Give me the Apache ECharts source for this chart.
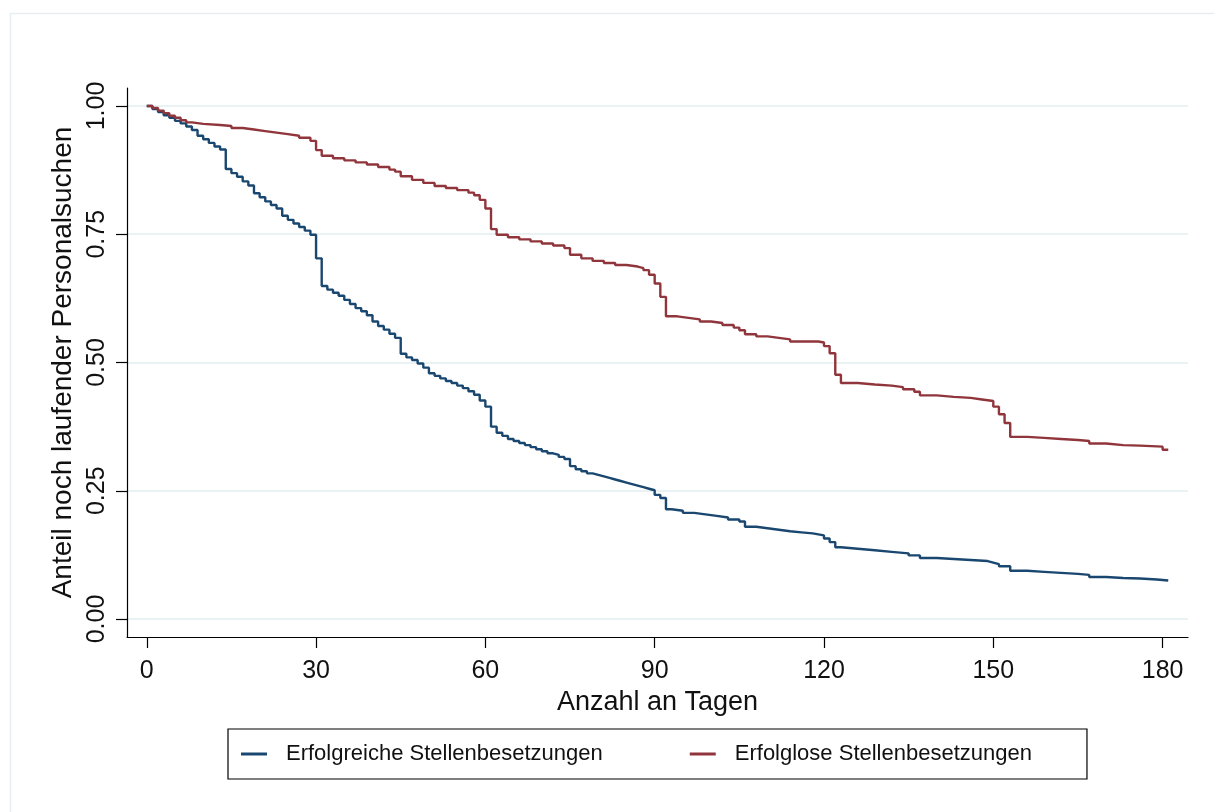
<!DOCTYPE html>
<html>
<head>
<meta charset="utf-8">
<script src="https://cdn.jsdelivr.net/npm/echarts@6/dist/echarts.min.js"></script>
<style>
  html, body { margin: 0; padding: 0; background: #fff; }
  #chart { width: 1214px; height: 812px; }
</style>
</head>
<body>
<div id="chart"></div>
<script>
// Achsen
var xTicks = [0, 30, 60, 90, 120, 150, 180];
var yTicks = [0, 0.25, 0.5, 0.75, 1];

// Erfolgreiche Stellenbesetzungen (Tag, Anteil)
var erfolgDays = [0,1,2,3,4,5,6,7,8,9,10,11,12,13,14,15,16,17,18,19,20,21,22,23,24,25,26,27,28,29,30,31,32,33,34,35,36,37,38,39,40,41,42,43,44,45,46,47,48,49,50,51,52,53,54,55,56,57,58,59,60,61,62,63,64,65,66,67,68,69,70,71,72,73,74,75,76,77,78,79,80,81,82,83,84,85,86,87,88,89,90,91,92,93,95,97,99,101,103,105,106,108,110,112,114,116,118,119,120,121,122,123,126,129,132,135,137,140,143,146,149,150,151,153,156,159,162,165,167,170,173,176,179,181];
var erfolgVals = [1.0,0.994,0.988,0.982,0.977,0.971,0.966,0.960,0.953,0.942,0.935,0.928,0.921,0.915,0.877,0.869,0.862,0.853,0.845,0.830,0.822,0.814,0.807,0.800,0.786,0.778,0.771,0.764,0.757,0.749,0.703,0.649,0.642,0.636,0.630,0.622,0.614,0.606,0.600,0.592,0.580,0.571,0.564,0.556,0.548,0.517,0.510,0.505,0.498,0.490,0.479,0.474,0.469,0.464,0.460,0.455,0.450,0.444,0.437,0.426,0.414,0.375,0.363,0.357,0.351,0.347,0.343,0.339,0.335,0.331,0.327,0.323,0.320,0.316,0.312,0.298,0.292,0.288,0.284,0.281,0.278,0.275,0.272,0.269,0.266,0.263,0.260,0.257,0.254,0.251,0.242,0.236,0.214,0.211,0.207,0.204,0.201,0.198,0.194,0.190,0.180,0.177,0.174,0.171,0.169,0.167,0.165,0.163,0.157,0.150,0.140,0.137,0.134,0.131,0.128,0.124,0.119,0.117,0.115,0.113,0.110,0.107,0.103,0.094,0.092,0.090,0.088,0.086,0.082,0.080,0.079,0.077,0.075,0.075];

// Erfolglose Stellenbesetzungen (Tag, Anteil)
var erfolglosDays = [0,1,2,3,4,5,6,7,8,10,13,15,17,19,21,23,25,27,29,30,31,33,35,37,39,41,43,44,45,47,49,51,53,55,57,58,59,60,61,62,64,66,68,70,72,74,75,77,79,81,83,85,87,88,89,90,91,92,94,96,98,100,102,104,105,106,108,110,112,114,119,120,121,122,123,126,129,132,134,136,137,140,143,146,148,150,151,152,153,156,159,162,165,167,170,173,176,178,180,181];
var erfolglosVals = [1.0,0.996,0.991,0.986,0.981,0.977,0.972,0.968,0.965,0.963,0.961,0.957,0.954,0.951,0.948,0.945,0.942,0.938,0.932,0.914,0.903,0.898,0.894,0.890,0.886,0.881,0.876,0.872,0.863,0.856,0.850,0.844,0.840,0.836,0.831,0.826,0.817,0.800,0.760,0.749,0.744,0.740,0.736,0.732,0.728,0.723,0.710,0.703,0.698,0.694,0.690,0.687,0.684,0.680,0.671,0.654,0.628,0.590,0.587,0.584,0.580,0.577,0.573,0.568,0.563,0.555,0.551,0.548,0.545,0.541,0.539,0.532,0.518,0.476,0.460,0.457,0.455,0.452,0.448,0.443,0.436,0.433,0.431,0.428,0.425,0.414,0.399,0.382,0.355,0.353,0.351,0.349,0.347,0.342,0.339,0.338,0.337,0.336,0.330,0.330];

function pairs(days, vals) {
    var out = [];
    for (var i = 0; i < days.length; i++) {
        out.push([days[i], vals[i]]);
    }
    return out;
}

var font = 'Liberation Sans, Arial, sans-serif';
var chart = echarts.init(document.getElementById('chart'));

chart.setOption({
    backgroundColor: '#ffffff',
    animation: false,
    // heller Rahmen oben/links
    graphic: [{
        type: 'rect',
        left: 8, top: 11,
        shape: { width: 1230, height: 830 },
        style: { fill: 'none', stroke: '#e6edf1', lineWidth: 1.5 },
        silent: true
    }],
    grid: { left: 127, right: 26, top: 88, bottom: 175 },
    legend: {
        left: 228, top: 729,
        orient: 'horizontal',
        padding: [14, 55, 14, 13],
        borderColor: '#000',
        borderWidth: 1.2,
        itemWidth: 26,
        itemHeight: 3,
        itemGap: 87,
        icon: 'rect',
        textStyle: { fontFamily: font, fontSize: 22, color: '#111', padding: [0, 0, 0, 14] },
        data: ['Erfolgreiche Stellenbesetzungen', 'Erfolglose Stellenbesetzungen']
    },
    xAxis: {
        type: 'value',
        min: -3.5, max: 184.5,
        name: 'Anzahl an Tagen',
        nameLocation: 'middle',
        nameGap: 45,
        nameTextStyle: { fontFamily: font, fontSize: 27, color: '#111' },
        axisLine: { show: true, onZero: false, lineStyle: { color: '#000', width: 1.2 } },
        axisTick: { show: true, length: 11, customValues: xTicks, lineStyle: { color: '#000', width: 1.2 } },
        axisLabel: { customValues: xTicks, fontFamily: font, fontSize: 25, color: '#111', margin: 22 },
        splitLine: { show: false }
    },
    yAxis: {
        type: 'value',
        min: -0.035, max: 1.035,
        name: 'Anteil noch laufender Personalsuchen',
        nameLocation: 'middle',
        nameGap: 45,
        nameTextStyle: { fontFamily: font, fontSize: 28, color: '#111' },
        axisLine: { show: true, onZero: false, lineStyle: { color: '#000', width: 1.2 } },
        axisTick: { show: true, length: 11, customValues: yTicks, lineStyle: { color: '#000', width: 1.2 } },
        axisLabel: {
            customValues: yTicks,
            rotate: 90,
            fontFamily: font, fontSize: 25, color: '#111', margin: 17,
            formatter: function (v) { return v.toFixed(2); }
        },
        splitLine: { show: true, lineStyle: { color: '#eaf2f3', width: 2 } }
    },
    series: [{
        name: 'Erfolgreiche Stellenbesetzungen',
        type: 'line',
        step: 'end',
        showSymbol: false,
        color: '#1a476f',
        lineStyle: { width: 2.4, color: '#1a476f' },
        data: pairs(erfolgDays, erfolgVals)
    }, {
        name: 'Erfolglose Stellenbesetzungen',
        type: 'line',
        step: 'end',
        showSymbol: false,
        color: '#90353b',
        lineStyle: { width: 2.4, color: '#90353b' },
        data: pairs(erfolglosDays, erfolglosVals)
    }]
});
</script>
</body>
</html>
